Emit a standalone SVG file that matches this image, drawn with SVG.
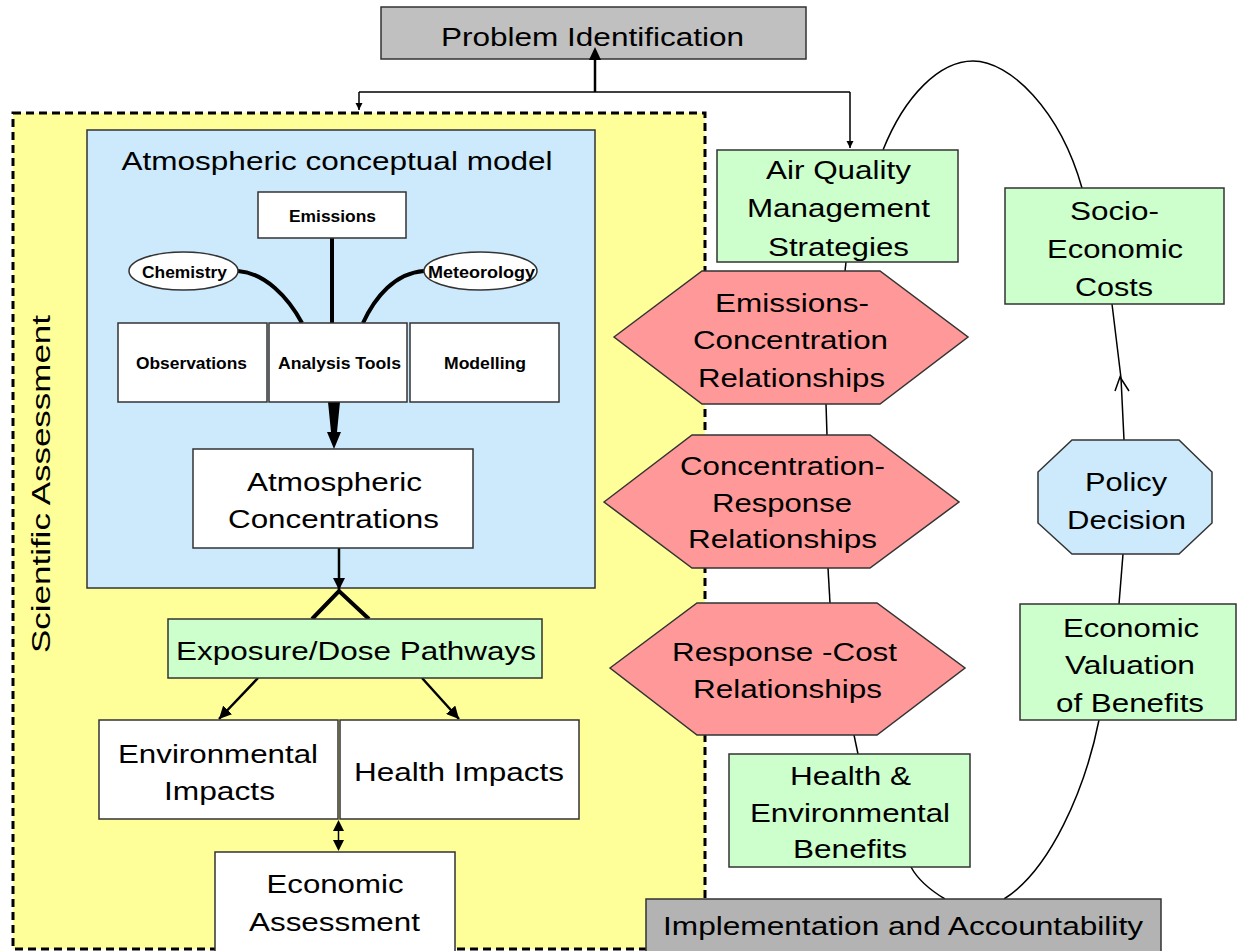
<svg xmlns="http://www.w3.org/2000/svg" width="1237" height="951" viewBox="0 0 1237 951">
<style>
text{font-family:"Liberation Sans",Arial,sans-serif;fill:#000;text-anchor:middle}
.t{font-size:26px}
.s{font-size:16px;font-weight:bold}
.box{stroke:#333;stroke-width:1.5}
.w{fill:#fff}
.g{fill:#ccffcc}
.r{fill:#ff9999}
.b{fill:#cceafc}
.gray{fill:#c0c0c0}
.gray2{fill:#b3b3b3}
.thin{fill:none;stroke:#000;stroke-width:1.5}
.thick{fill:none;stroke:#000;stroke-width:4}
.mid{fill:none;stroke:#000;stroke-width:2.5}
.head{fill:#000}
</style>
<defs>
<marker id="ah" viewBox="0 0 10 10" refX="10" refY="5" markerWidth="5" markerHeight="5" orient="auto" markerUnits="strokeWidth">
<path d="M0,0 L10,5 L0,10 z" fill="#000"/>
</marker>
</defs>

<g id="scientific-assessment">
<rect x="13" y="113" width="692" height="836" fill="#ffff99" stroke="#000" stroke-width="3" stroke-dasharray="8,5"/>
<text class="t" transform="translate(50,484) rotate(-90)" x="0" y="0" textLength="338" lengthAdjust="spacingAndGlyphs">Scientific Assessment</text>
</g>

<g id="atmospheric-model">
<rect class="box b" x="87" y="130" width="508" height="458"/>
<text class="t" x="337" y="170" textLength="431" lengthAdjust="spacingAndGlyphs">Atmospheric conceptual model</text>
</g>

<g id="connectors">
<path class="mid" d="M595,92 L595,59"/>
<path class="thin" d="M359,92 L850,92" stroke-width="2"/>
<path class="thin" d="M359,92 L359,110" marker-end="url(#ah)" stroke-width="2"/>
<path class="thin" d="M850,92 L850,148" marker-end="url(#ah)" stroke-width="2"/>
<path class="thick" d="M332,238 L332,323"/>
<path class="thick" d="M238,271 C265,273 288,297 302,323"/>
<path class="thick" d="M424,271 C395,273 375,297 363,323"/>
<polygon class="head" points="328,402 340,402 337,432 341,432 334,449 327,432 331,432"/>
<path class="mid" d="M339,548 L339,590" marker-end="url(#ah)" stroke-width="3"/>
<path class="thick" d="M312,619 L339,591 L369,619"/>
<path class="mid" d="M258,678 L219,719" marker-end="url(#ah)" stroke-width="3.5"/>
<path class="mid" d="M422,678 L459,719" marker-end="url(#ah)" stroke-width="3.5"/>
<path class="thin" d="M338.5,826 L338.5,845" stroke-width="2"/>
<polygon class="head" points="333,831 344,831 338.5,820"/>
<polygon class="head" points="333,840 344,840 338.5,851"/>
<path class="thin" d="M883,150 C905,95 940,61 973,61 C1010,61 1060,110 1082,188"/>
<path class="thin" d="M1112,304 L1121,378 L1124,440"/>
<path class="thin" d="M1115,391 L1120,377 L1129,391"/>
<path class="thin" d="M1123,554 L1119,604"/>
<path class="thin" d="M1099,720 C1085,790 1050,870 1004,899"/>
<path class="thin" d="M945,899 C930,890 918,880 911,867"/>
<path class="thin" d="M858,754 L854,735"/>
<path class="thin" d="M830,603 L828,568"/>
<path class="thin" d="M827,435 L826,404"/>
<path class="thin" d="M845,271 L846,262"/>
</g>

<g id="problem-identification">
<rect class="box gray" x="381" y="7" width="425" height="52"/>
<text class="t" x="592.5" y="46" textLength="303" lengthAdjust="spacingAndGlyphs">Problem Identification</text>
<polygon class="head" points="589,60 601,60 595,47"/>
</g>

<g id="emissions">
<rect class="box w" x="258" y="192" width="148" height="46"/>
<text class="s" x="332.5" y="222" textLength="87" lengthAdjust="spacingAndGlyphs">Emissions</text>
</g>
<g id="chemistry">
<ellipse class="box w" cx="183.5" cy="271" rx="54.5" ry="19"/>
<text class="s" x="184.5" y="278" textLength="85" lengthAdjust="spacingAndGlyphs">Chemistry</text>
</g>
<g id="meteorology">
<ellipse class="box w" cx="480.5" cy="271" rx="56.5" ry="19"/>
<text class="s" x="481.5" y="278" textLength="107" lengthAdjust="spacingAndGlyphs">Meteorology</text>
</g>
<g id="observations">
<rect class="box w" x="118" y="323" width="149" height="79"/>
<text class="s" x="191.5" y="369" textLength="111" lengthAdjust="spacingAndGlyphs">Observations</text>
</g>
<g id="analysis-tools">
<rect class="box w" x="269" y="323" width="138" height="79"/>
<text class="s" x="339.5" y="369" textLength="123" lengthAdjust="spacingAndGlyphs">Analysis Tools</text>
</g>
<g id="modelling">
<rect class="box w" x="410" y="323" width="149" height="79"/>
<text class="s" x="485" y="369" textLength="82" lengthAdjust="spacingAndGlyphs">Modelling</text>
</g>

<g id="atmospheric-concentrations">
<rect class="box w" x="193" y="449" width="280" height="99"/>
<text class="t" x="334.5" y="491" textLength="175" lengthAdjust="spacingAndGlyphs">Atmospheric</text>
<text class="t" x="333.5" y="528" textLength="211" lengthAdjust="spacingAndGlyphs">Concentrations</text>
</g>

<g id="exposure-dose">
<rect class="box g" x="168" y="619" width="374" height="59"/>
<text class="t" x="356" y="660" textLength="360" lengthAdjust="spacingAndGlyphs">Exposure/Dose Pathways</text>
</g>

<g id="environmental-impacts">
<rect class="box w" x="99" y="720" width="239" height="99"/>
<text class="t" x="218" y="763" textLength="200" lengthAdjust="spacingAndGlyphs">Environmental</text>
<text class="t" x="219.5" y="800" textLength="111" lengthAdjust="spacingAndGlyphs">Impacts</text>
</g>
<g id="health-impacts">
<rect class="box w" x="340" y="720" width="239" height="99"/>
<text class="t" x="459" y="781" textLength="210" lengthAdjust="spacingAndGlyphs">Health Impacts</text>
</g>

<g id="economic-assessment">
<rect class="box w" x="215" y="852" width="240" height="104"/>
<text class="t" x="335" y="893" textLength="137" lengthAdjust="spacingAndGlyphs">Economic</text>
<text class="t" x="334.5" y="931" textLength="171" lengthAdjust="spacingAndGlyphs">Assessment</text>
</g>

<g id="air-quality-management">
<rect class="box g" x="717" y="150" width="241" height="112"/>
<text class="t" x="838.5" y="179" textLength="145" lengthAdjust="spacingAndGlyphs">Air Quality</text>
<text class="t" x="838.5" y="217" textLength="183" lengthAdjust="spacingAndGlyphs">Management</text>
<text class="t" x="838.5" y="256" textLength="141" lengthAdjust="spacingAndGlyphs">Strategies</text>
</g>

<g id="emissions-concentration">
<polygon class="box r" points="614,337 702,271 880,271 968,337 880,404 702,404"/>
<text class="t" x="792" y="312" textLength="154" lengthAdjust="spacingAndGlyphs">Emissions-</text>
<text class="t" x="790.5" y="349" textLength="195" lengthAdjust="spacingAndGlyphs">Concentration</text>
<text class="t" x="791.5" y="387" textLength="187" lengthAdjust="spacingAndGlyphs">Relationships</text>
</g>

<g id="concentration-response">
<polygon class="box r" points="604,502 692,435 870,435 959,502 870,568 692,568"/>
<text class="t" x="782.5" y="475" textLength="205" lengthAdjust="spacingAndGlyphs">Concentration-</text>
<text class="t" x="782" y="512" textLength="140" lengthAdjust="spacingAndGlyphs">Response</text>
<text class="t" x="782.5" y="548" textLength="189" lengthAdjust="spacingAndGlyphs">Relationships</text>
</g>

<g id="response-cost">
<polygon class="box r" points="610,668 697,603 877,603 965,668 877,735 697,735"/>
<text class="t" x="784.5" y="661" textLength="225" lengthAdjust="spacingAndGlyphs">Response -Cost</text>
<text class="t" x="787.5" y="698" textLength="189" lengthAdjust="spacingAndGlyphs">Relationships</text>
</g>

<g id="health-environmental-benefits">
<rect class="box g" x="729" y="754" width="241" height="113"/>
<text class="t" x="850.5" y="785" textLength="121" lengthAdjust="spacingAndGlyphs">Health &amp;</text>
<text class="t" x="850" y="822" textLength="200" lengthAdjust="spacingAndGlyphs">Environmental</text>
<text class="t" x="850" y="858" textLength="114" lengthAdjust="spacingAndGlyphs">Benefits</text>
</g>

<g id="implementation-accountability">
<rect class="box gray2" x="646" y="899" width="515" height="60"/>
<text class="t" x="903" y="935" textLength="480" lengthAdjust="spacingAndGlyphs">Implementation and Accountability</text>
</g>

<g id="socio-economic-costs">
<rect class="box g" x="1005" y="188" width="219" height="116"/>
<text class="t" x="1114.5" y="220" textLength="89" lengthAdjust="spacingAndGlyphs">Socio-</text>
<text class="t" x="1115" y="258" textLength="136" lengthAdjust="spacingAndGlyphs">Economic</text>
<text class="t" x="1114" y="296" textLength="78" lengthAdjust="spacingAndGlyphs">Costs</text>
</g>

<g id="policy-decision">
<polygon class="box b" points="1072,440 1179,440 1212,472 1212,523 1179,554 1072,554 1038,523 1038,472"/>
<text class="t" x="1126" y="491" textLength="82" lengthAdjust="spacingAndGlyphs">Policy</text>
<text class="t" x="1126.5" y="529" textLength="119" lengthAdjust="spacingAndGlyphs">Decision</text>
</g>

<g id="economic-valuation">
<rect class="box g" x="1020" y="604" width="216" height="116"/>
<text class="t" x="1131" y="637" textLength="136" lengthAdjust="spacingAndGlyphs">Economic</text>
<text class="t" x="1130" y="674" textLength="130" lengthAdjust="spacingAndGlyphs">Valuation</text>
<text class="t" x="1130" y="712" textLength="148" lengthAdjust="spacingAndGlyphs">of Benefits</text>
</g>
</svg>
